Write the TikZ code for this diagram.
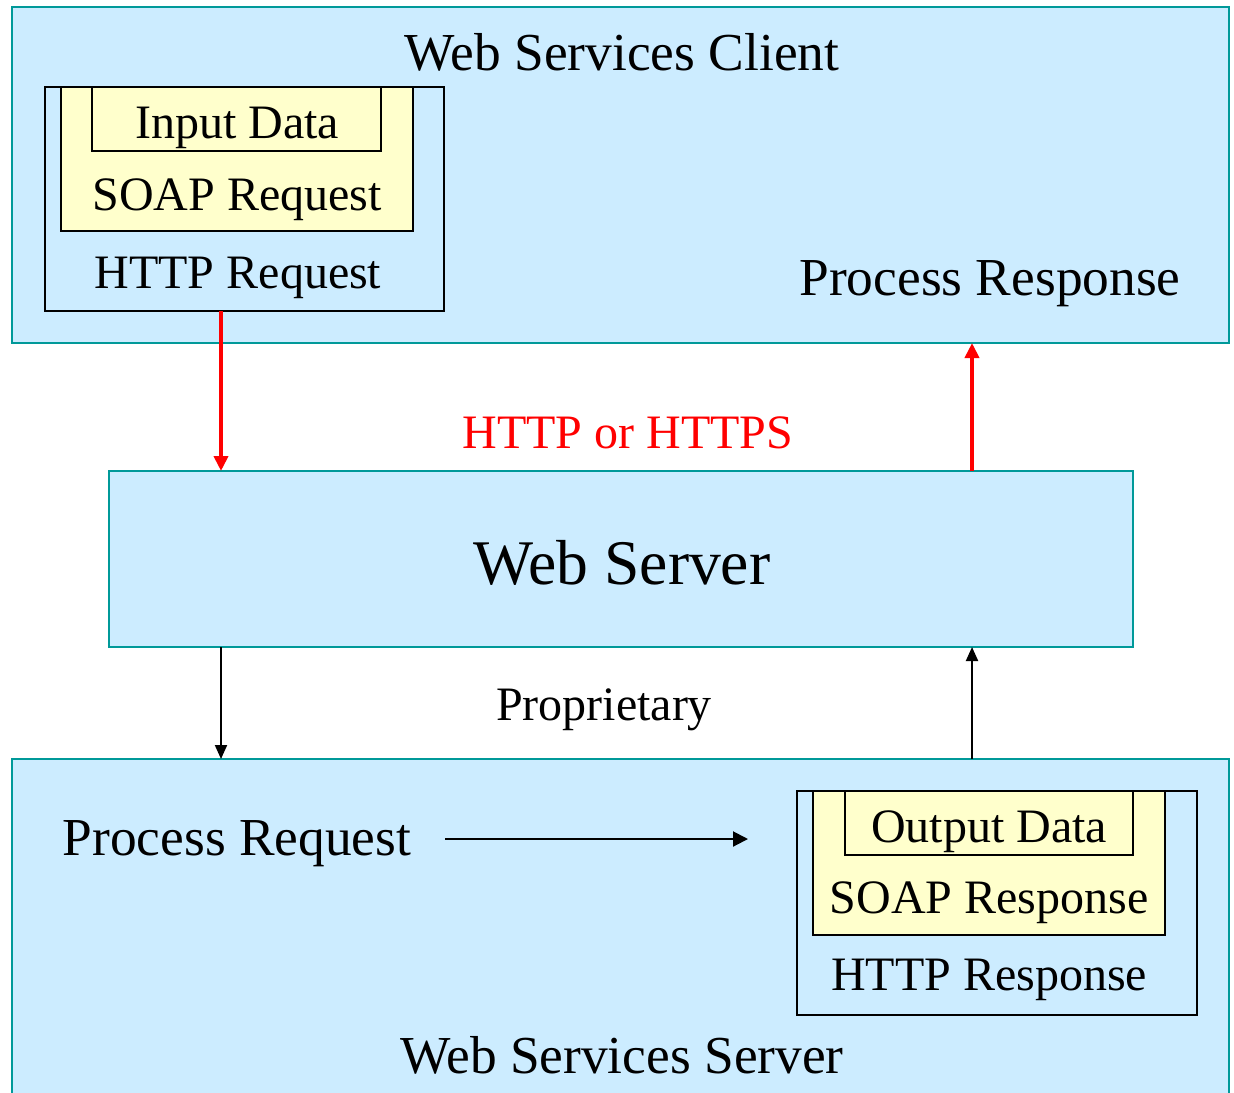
\documentclass[tikz,border=0pt]{standalone}
\usepackage{fontspec}
\setmainfont{Liberation Serif}
\usetikzlibrary{arrows.meta}
\definecolor{boxblue}{HTML}{CCECFF}
\definecolor{boxteal}{HTML}{009999}
\definecolor{boxyellow}{HTML}{FFFFCC}
\definecolor{arrred}{HTML}{FF0000}
\newcommand{\bigtxt}{\fontsize{26.7}{30}\selectfont}
\newcommand{\midtxt}{\fontsize{24}{28}\selectfont}
\newcommand{\hugetxt}{\fontsize{31.8}{36}\selectfont}
\begin{document}
\begin{tikzpicture}[x=0.5pt,y=-0.5pt,
  outerbox/.style={draw=boxteal,fill=boxblue,line width=1pt,anchor=north west,inner sep=0pt,outer sep=0pt},
  inbox/.style={draw=black,fill=boxblue,line width=1pt,anchor=north west,inner sep=0pt,outer sep=0pt},
  yelbox/.style={draw=black,fill=boxyellow,line width=1pt,anchor=north west,inner sep=0pt,outer sep=0pt},
  lbl/.style={anchor=base,inner sep=0pt},
  redarr/.style={draw=arrred,line width=2pt,-{Triangle[length=7.5pt,width=7pt]}},
  blkarr/.style={draw=black,line width=1pt,-{Triangle[length=7pt,width=6pt]}}]
\useasboundingbox (0,0) rectangle (1234,1092);
% boxes
\node[outerbox,minimum width=608.5pt,minimum height=168pt] (client) at (12,7) {};
\node[outerbox,minimum width=512pt,minimum height=88pt] (web) at (109,471) {};
\node[outerbox,minimum width=608.5pt,minimum height=175pt] (server) at (12,759) {};
\node[inbox,minimum width=199.5pt,minimum height=112pt] (httpreq) at (45,87) {};
\node[yelbox,minimum width=176pt,minimum height=72pt] (soapreq) at (61,87) {};
\node[yelbox,minimum width=144.5pt,minimum height=32pt] (input) at (92,87) {};
\node[inbox,minimum width=200pt,minimum height=112pt] (httpres) at (797,791) {};
\node[yelbox,minimum width=176pt,minimum height=72pt] (soapres) at (813,791) {};
\node[yelbox,minimum width=144pt,minimum height=32pt] (output) at (845,791) {};
% labels
\node[lbl] (tclient) at (622,70) {\bigtxt Web Services Client};
\node[lbl] (tinput) at (237,138) {\midtxt Input Data};
\node[lbl] (tsoapreq) at (237,210) {\midtxt SOAP Request};
\node[lbl] (thttpreq) at (238,288) {\midtxt HTTP Request};
\node[lbl] (tprocres) at (990,295) {\bigtxt Process Response};
\node[lbl,text=arrred] (thttps) at (628,448) {\midtxt HTTP or HTTPS};
\node[lbl] (tweb) at (622,584) {\hugetxt Web Server};
\node[lbl] (tprop) at (604,720) {\midtxt Proprietary};
\node[lbl] (tprocreq) at (237,855) {\bigtxt Process Request};
\node[lbl] (toutput) at (989,842) {\midtxt Output Data};
\node[lbl] (tsoapres) at (989,913) {\midtxt SOAP Response};
\node[lbl] (thttpres) at (989,990) {\midtxt HTTP Response};
\node[lbl] (tserver) at (622,1073) {\bigtxt Web Services Server};
% connectors
\coordinate (lx) at (221,0);
\coordinate (rx) at (972,0);
\coordinate (pa) at (445,839);
\coordinate (pb) at (748,839);
\draw[redarr] (httpreq.south -| lx) -- (web.north -| lx);
\draw[redarr] (web.north -| rx) -- (client.south -| rx);
\draw[blkarr] (web.south -| lx) -- (server.north -| lx);
\draw[blkarr] (server.north -| rx) -- (web.south -| rx);
\draw[blkarr,-{Triangle[length=7.5pt,width=7.5pt]}] (pa) -- (pb);
\end{tikzpicture}
\end{document}
